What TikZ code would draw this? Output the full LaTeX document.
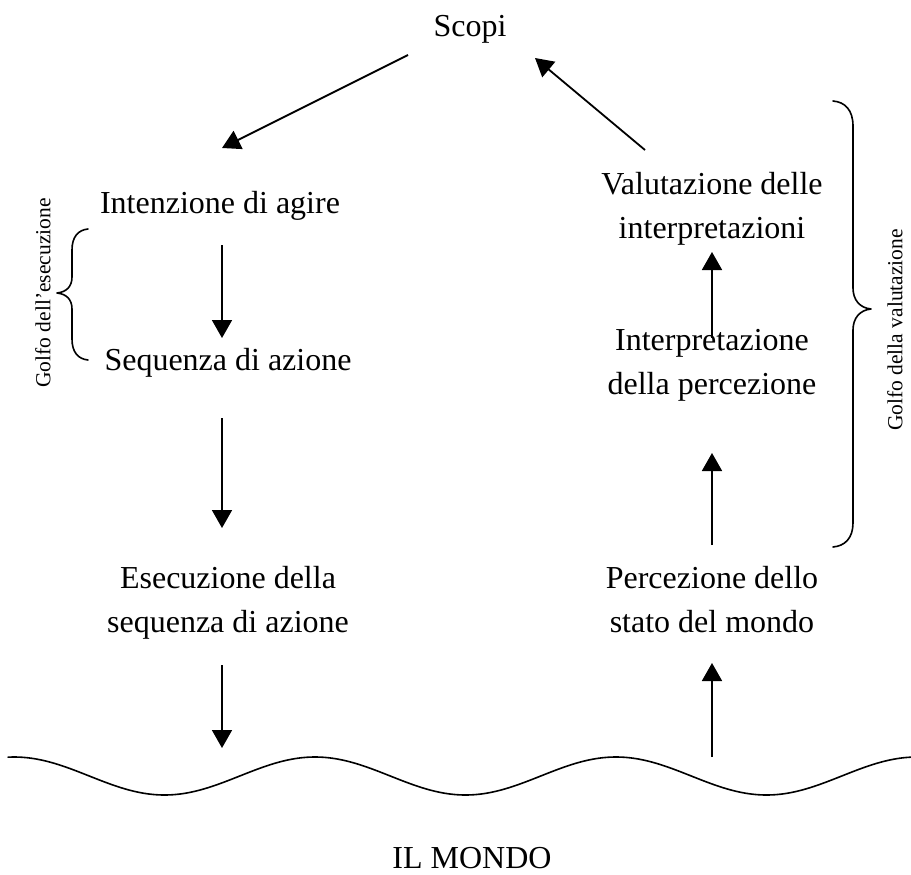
\documentclass[tikz,border=0pt]{standalone}
\usepackage{fontspec}
\setmainfont{Liberation Serif}
\usetikzlibrary{arrows.meta}
\begin{document}
\begin{tikzpicture}[x=1pt,y=-1pt,
  label/.style={font=\fontsize{32}{44}\selectfont, align=center, anchor=base, inner sep=0pt},
  side/.style={font=\fontsize{21.5}{26}\selectfont, rotate=90, inner sep=0pt},
  flow/.style={line width=1.8pt, -{Triangle[length=18pt,width=20pt]}},
  wire/.style={line width=1.6pt, line cap=round, line join=round}]
\useasboundingbox (0,0) rectangle (911,875);

% stage labels (base = baseline of the last line)
\node[label] (goals) at (470,37) {Scopi};
\node[label] (intent) at (220,213) {Intenzione di agire};
\node[label] (seq) at (228,370) {Sequenza di azione};
\node[label] (exec) at (228,632) {Esecuzione della\\sequenza di azione};
\node[label] (eval) at (712,238) {Valutazione delle\\interpretazioni};
\node[label] (interp) at (712,394) {Interpretazione\\della percezione};
\node[label] (percep) at (712,632) {Percezione dello\\stato del mondo};
\node[label] (world) at (472,868) {IL MONDO};

% connector end points
\coordinate (g1) at (408,55);   \coordinate (i0) at (222,148);
\coordinate (e0) at (645,150);  \coordinate (g2) at (535,58);
\coordinate (i1) at (222,245);  \coordinate (s0) at (222,338);
\coordinate (s1) at (222,418);  \coordinate (x0) at (222,528);
\coordinate (x1) at (222,665);  \coordinate (w0) at (222,748);
\coordinate (n1) at (712,338);  \coordinate (v0) at (712,252);
\coordinate (p1) at (712,545);  \coordinate (n0) at (712,453);
\coordinate (w1) at (712,757);  \coordinate (p0) at (712,663);

\draw[flow] (g1) -- (i0);
\draw[flow] (e0) -- (g2);
\draw[flow] (i1) -- (s0);
\draw[flow] (s1) -- (x0);
\draw[flow] (x1) -- (w0);
\draw[flow] (n1) -- (v0);
\draw[flow] (p1) -- (n0);
\draw[flow] (w1) -- (p0);

% the world's surface (period 301)
\draw[wire] plot[domain=8:911, samples=160, smooth] (\x, {776-19*cos(1.196*(\x-14))});

% gulf of execution
\draw[wire] (88,229) .. controls (78,230) and (72,237) .. (72,250)
  -- (72,277) .. controls (72,287) and (66,292) .. (57,293)
  .. controls (66,294) and (72,299) .. (72,309)
  -- (72,339) .. controls (72,352) and (78,359) .. (88,360);
\node[side] (gexec) at (43,293) {Golfo dell’esecuzione};

% gulf of evaluation
\draw[wire] (833,101) .. controls (845,102) and (853,110) .. (853,126)
  -- (853,288) .. controls (853,300) and (860,308) .. (871,309)
  .. controls (860,310) and (853,318) .. (853,330)
  -- (853,523) .. controls (853,538) and (845,546) .. (833,547);
\node[side] (geval) at (895,330) {Golfo della valutazione};
\end{tikzpicture}
\end{document}
